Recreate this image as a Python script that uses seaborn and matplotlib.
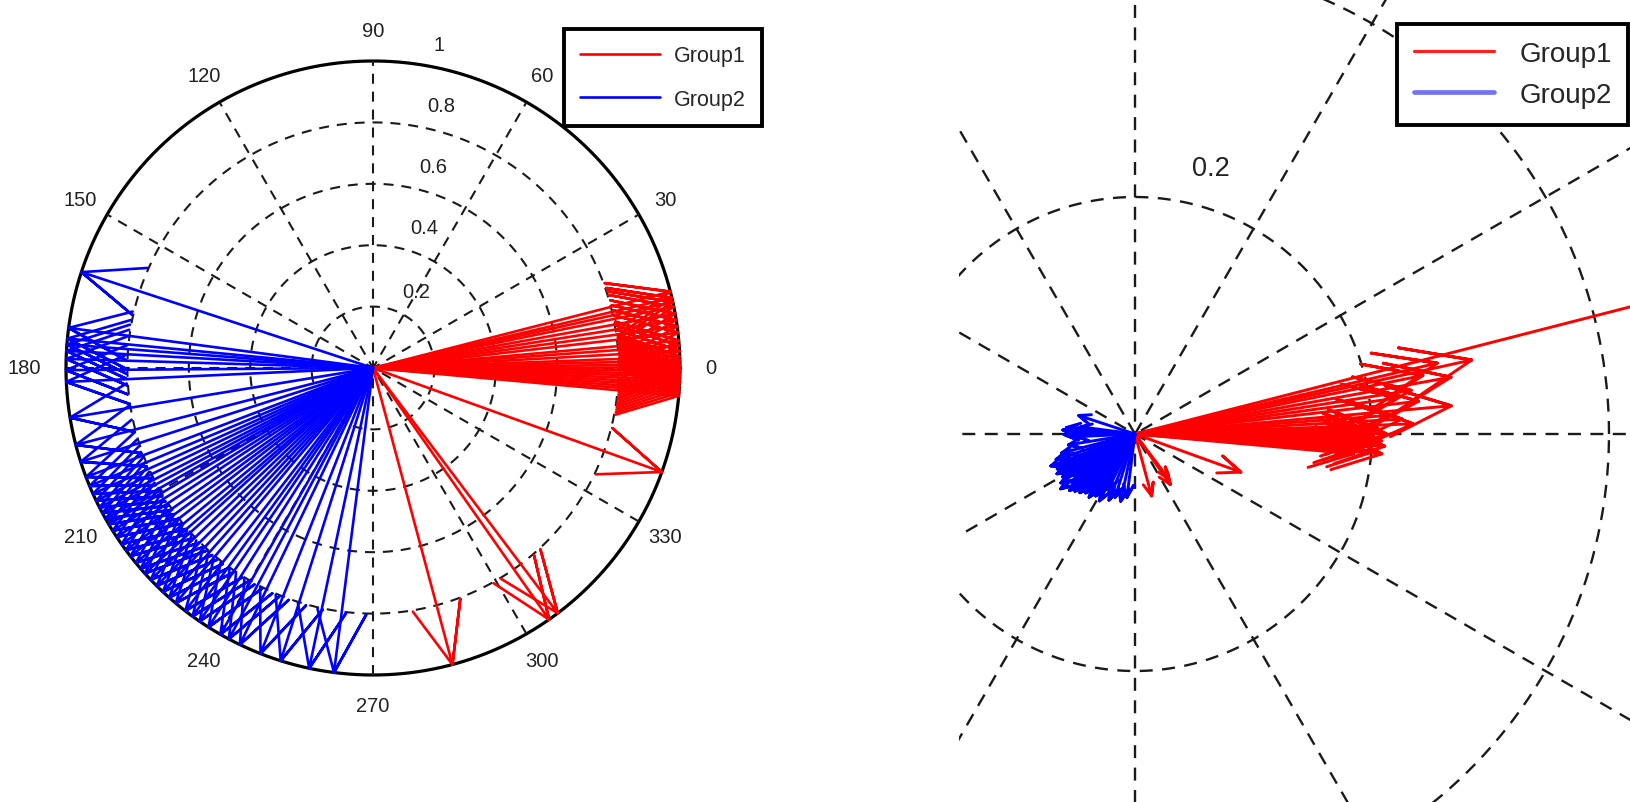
import numpy as np
import pandas as pd
import matplotlib
matplotlib.use('Agg')
import matplotlib.pyplot as plt
import seaborn as sns
from matplotlib.lines import Line2D

# arrow directions (degrees) and raw lengths for each group
g1_angle = [14.4, 12.4, 13.2, 11.5, 10.2, 9.0, 7.8, 6.6, 5.1, 4.2,
            3.2, 2.1, 1.4, 0.7, 0.1, -0.5, -1.1, -1.6, -2.2, -2.8,
            -3.4, -4.0, -4.6, -5.2, -19.8, -53.0, -55.0, -75.0]
g1_mag = [0.56, 0.291, 0.262, 0.248, 0.271, 0.236, 0.223, 0.241, 0.268, 0.214,
          0.226, 0.235, 0.205, 0.198, 0.212, 0.201, 0.196, 0.208, 0.199, 0.211,
          0.190, 0.204, 0.209, 0.185, 0.095, 0.047, 0.052, 0.054]

g2_angle = [161.8, 172.5, 174.5, 175.6, 176.8, 178.3, 180.4, 182.6, 189.3, 194.5,
            197.8, 200.8, 202.6, 204.2, 205.6, 207.0, 208.2, 209.4, 210.6, 212.0,
            213.4, 215.0, 216.4, 217.8, 219.4, 220.8, 222.0, 223.6, 225.2, 226.8,
            228.4, 230.0, 232.3, 234.0, 235.6, 237.6, 240.2, 242.0, 244.3, 248.5,
            252.5, 258.0, 262.7]
g2_mag = [0.050, 0.046, 0.058, 0.052, 0.061, 0.055, 0.060, 0.049, 0.057, 0.064,
          0.070, 0.076, 0.068, 0.072, 0.063, 0.074, 0.069, 0.058, 0.071, 0.066,
          0.075, 0.062, 0.078, 0.067, 0.059, 0.073, 0.064, 0.070, 0.061, 0.068,
          0.057, 0.065, 0.060, 0.066, 0.055, 0.062, 0.058, 0.064, 0.052, 0.060,
          0.056, 0.058, 0.054]

groups = ['Group1', 'Group2']
palette = {'Group1': '#ff0000', 'Group2': '#0000ff'}

left_rings = [0.2, 0.4, 0.6, 0.8]
left_rmax = 1.0
right_rings = [0.2, 0.4]
right_rmax = 0.6
spoke_angles = [0, 30, 60, 90, 120, 150]
angle_ticks = [0, 30, 60, 90, 120, 150, 180, 210, 240, 270, 300, 330]


def arrow_frame(unit):
    # compass style arrows: shaft plus two head strokes
    shape = np.array([0, 1, 0.8 + 0.08j, 1, 0.8 - 0.08j])
    rows = []
    for name, angs, mags in [('Group1', g1_angle, g1_mag), ('Group2', g2_angle, g2_mag)]:
        for k, (a, m) in enumerate(zip(angs, mags)):
            z = (1.0 if unit else m) * np.exp(1j * np.deg2rad(a))
            for i, p in enumerate(shape * z):
                rows.append((name, f'{name}_{k}', i, p.real, p.imag))
    return pd.DataFrame(rows, columns=['group', 'arrow', 'step', 'x', 'y'])


def draw_grid(ax, rings, rmax, lw, dash):
    t = np.linspace(0, 2 * np.pi, 500)
    for r in rings:
        ax.plot(r * np.cos(t), r * np.sin(t), color='#1a1a1a', lw=lw,
                dashes=dash, zorder=1)
    ax.plot(rmax * np.cos(t), rmax * np.sin(t), color='black', lw=2.3, zorder=1)
    for a in spoke_angles:
        c, s = np.cos(np.deg2rad(a)), np.sin(np.deg2rad(a))
        ax.plot([-c * rmax, c * rmax], [-s * rmax, s * rmax], color='#1a1a1a',
                lw=lw, dashes=dash, zorder=1)


sns.set_style('white')
plt.rcParams['font.family'] = ['Liberation Sans', 'DejaVu Sans']

fig = plt.figure(figsize=(16.31, 8.03), dpi=100)
W, H = 1631, 803

# left panel: unit vectors, full compass
axl = fig.add_axes([0, 0, 820 / W, 1])
cx, cy, sc = 373, 369, 307
axl.set_xlim(-cx / sc, (820 - cx) / sc)
axl.set_ylim((cy - H) / sc, cy / sc)
axl.axis('off')
draw_grid(axl, left_rings, left_rmax, 1.5, (4.8, 3.8))
sns.lineplot(data=arrow_frame(True), x='x', y='y', hue='group', units='arrow',
             estimator=None, sort=False, palette=palette, lw=1.9, ax=axl,
             legend=False, zorder=3)

for a in angle_ticks:
    r = 1.1 * left_rmax
    axl.annotate(str(a), xy=(r * np.cos(np.deg2rad(a)), r * np.sin(np.deg2rad(a))),
                 xytext=(-11 if a == 180 else 0, 0), textcoords='offset pixels',
                 ha='center', va='center', fontsize=14.5, color='#222222')
c82, s82 = np.cos(np.deg2rad(82)), np.sin(np.deg2rad(82))
for r in left_rings + [left_rmax]:
    lab = f'{r:g}'
    off = (23, 16) if lab == '1' else (34, 13 if r < 0.3 else 16)
    axl.annotate(lab, xy=((r + 0.01) * c82, (r + 0.01) * s82), xytext=off,
                 textcoords='offset pixels', ha='center', va='center',
                 fontsize=14.5, color='#222222')

hl = [Line2D([], [], color=palette[g], lw=1.9) for g in groups]
leg = axl.legend(hl, groups, loc='upper left', bbox_to_anchor=(564 / W, 1 - 30 / H),
                 bbox_transform=fig.transFigure, borderaxespad=0, fancybox=False,
                 edgecolor='black', framealpha=1, fontsize=15.5, handlelength=3.7,
                 handletextpad=0.65, borderpad=0.75, labelspacing=1.05)
leg.get_frame().set_linewidth(2.8)

# right panel: raw vectors, zoomed around the origin
x0 = 959
axr = fig.add_axes([x0 / W, 0, (W - x0) / W, 1])
cx, cy, sc = 1135, 435, 1185
axr.set_xlim((x0 - cx) / sc, (W - cx) / sc)
axr.set_ylim((cy - H) / sc, cy / sc)
axr.axis('off')
draw_grid(axr, right_rings, right_rmax, 1.7, (5.5, 4))
sns.lineplot(data=arrow_frame(False), x='x', y='y', hue='group', units='arrow',
             estimator=None, sort=False, palette=palette, lw=2.1, ax=axr,
             legend=False, zorder=3)
for r in right_rings:
    axr.annotate(f'{r:g}', xy=((r + 0.01) * c82, (r + 0.01) * s82), xytext=(41, 20),
                 textcoords='offset pixels', ha='center', va='center',
                 fontsize=19.5, color='#222222')

hr = [Line2D([], [], color='#ff2020', lw=2.3), Line2D([], [], color='#7474f2', lw=3.4)]
leg2 = axr.legend(hr, groups, loc='upper left', bbox_to_anchor=(1397 / W, 1 - 25 / H),
                  bbox_transform=fig.transFigure, borderaxespad=0, fancybox=False,
                  edgecolor='black', framealpha=1, fontsize=20, handlelength=2.9,
                  handletextpad=0.9, borderpad=0.6, labelspacing=0.55)
leg2.get_frame().set_linewidth(2.8)

fig.savefig('out.png', dpi=100)
